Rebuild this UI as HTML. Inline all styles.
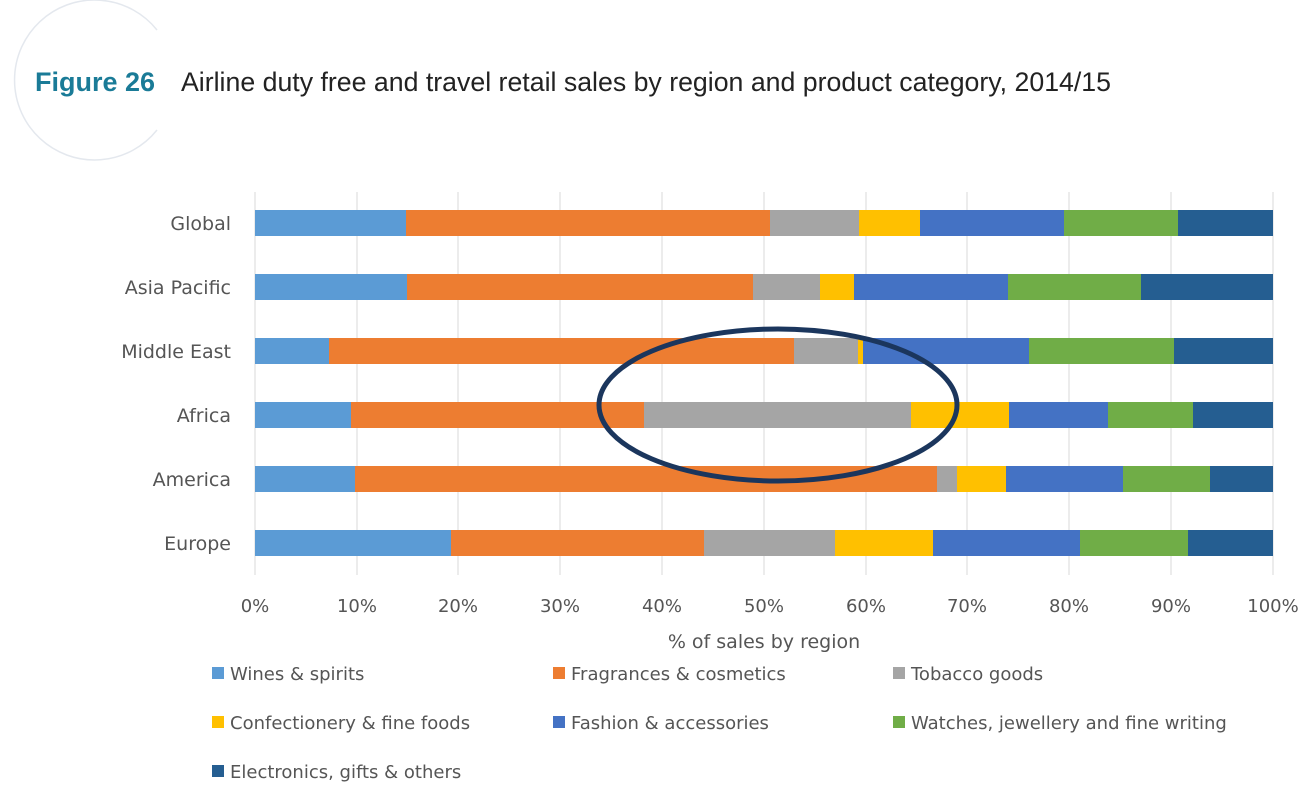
<!DOCTYPE html>
<html><head><meta charset="utf-8"><style>
body{margin:0;background:#fff;}
svg{display:block;}
</style></head><body>
<svg width="1305" height="793" xmlns="http://www.w3.org/2000/svg" font-family="'DejaVu Sans','Liberation Sans',sans-serif">
<path d="M157,30 A80,80 0 1 0 157,130" fill="none" stroke="#e4e8ee" stroke-width="1.5"/>
<text x="35" y="91" font-family="'Liberation Sans',sans-serif" font-weight="bold" font-size="27" fill="#1a7b97" textLength="120" lengthAdjust="spacingAndGlyphs">Figure 26</text>
<text x="181" y="91" font-family="'Liberation Sans',sans-serif" font-size="26.5" fill="#222" textLength="930" lengthAdjust="spacingAndGlyphs">Airline duty free and travel retail sales by region and product category, 2014/15</text>
<g stroke="#d9d9d9" stroke-width="1">
<line x1="255" y1="192" x2="255" y2="575"/><line x1="357" y1="192" x2="357" y2="575"/><line x1="458" y1="192" x2="458" y2="575"/><line x1="560" y1="192" x2="560" y2="575"/><line x1="662" y1="192" x2="662" y2="575"/><line x1="764" y1="192" x2="764" y2="575"/><line x1="866" y1="192" x2="866" y2="575"/><line x1="967" y1="192" x2="967" y2="575"/><line x1="1069" y1="192" x2="1069" y2="575"/><line x1="1171" y1="192" x2="1171" y2="575"/><line x1="1273" y1="192" x2="1273" y2="575"/>
</g>
<g font-size="19" fill="#555" text-anchor="end">
<text x="231" y="230">Global</text><text x="231" y="294">Asia Pacific</text><text x="231" y="358">Middle East</text><text x="231" y="422">Africa</text><text x="231" y="486">America</text><text x="231" y="550">Europe</text>
</g>
<g font-size="18" fill="#555" text-anchor="middle">
<text x="255" y="612">0%</text><text x="357" y="612">10%</text><text x="458" y="612">20%</text><text x="560" y="612">30%</text><text x="662" y="612">40%</text><text x="764" y="612">50%</text><text x="866" y="612">60%</text><text x="967" y="612">70%</text><text x="1069" y="612">80%</text><text x="1171" y="612">90%</text><text x="1273" y="612">100%</text>
<text x="764" y="648" font-size="19">% of sales by region</text>
</g>
<g font-size="18" fill="#555">
<rect x="212" y="667" width="12" height="12" fill="#5b9bd5"/><text x="230" y="680">Wines &amp; spirits</text>
<rect x="553" y="667" width="12" height="12" fill="#ed7d31"/><text x="571" y="680">Fragrances &amp; cosmetics</text>
<rect x="893" y="667" width="12" height="12" fill="#a5a5a5"/><text x="911" y="680">Tobacco goods</text>
<rect x="212" y="716" width="12" height="12" fill="#ffc000"/><text x="230" y="729">Confectionery &amp; fine foods</text>
<rect x="553" y="716" width="12" height="12" fill="#4472c4"/><text x="571" y="729">Fashion &amp; accessories</text>
<rect x="893" y="716" width="12" height="12" fill="#70ad47"/><text x="911" y="729">Watches, jewellery and fine writing</text>
<rect x="212" y="765" width="12" height="12" fill="#255e91"/><text x="230" y="778">Electronics, gifts &amp; others</text>
</g>
<g>
<rect x="255" y="210" width="151" height="26" fill="#5b9bd5"/><rect x="406" y="210" width="364" height="26" fill="#ed7d31"/><rect x="770" y="210" width="89" height="26" fill="#a5a5a5"/><rect x="859" y="210" width="61" height="26" fill="#ffc000"/><rect x="920" y="210" width="144" height="26" fill="#4472c4"/><rect x="1064" y="210" width="114" height="26" fill="#70ad47"/><rect x="1178" y="210" width="95" height="26" fill="#255e91"/>
<rect x="255" y="274" width="152" height="26" fill="#5b9bd5"/><rect x="407" y="274" width="346" height="26" fill="#ed7d31"/><rect x="753" y="274" width="67" height="26" fill="#a5a5a5"/><rect x="820" y="274" width="34" height="26" fill="#ffc000"/><rect x="854" y="274" width="154" height="26" fill="#4472c4"/><rect x="1008" y="274" width="133" height="26" fill="#70ad47"/><rect x="1141" y="274" width="132" height="26" fill="#255e91"/>
<rect x="255" y="338" width="74" height="26" fill="#5b9bd5"/><rect x="329" y="338" width="465" height="26" fill="#ed7d31"/><rect x="794" y="338" width="64" height="26" fill="#a5a5a5"/><rect x="858" y="338" width="5" height="26" fill="#ffc000"/><rect x="863" y="338" width="166" height="26" fill="#4472c4"/><rect x="1029" y="338" width="145" height="26" fill="#70ad47"/><rect x="1174" y="338" width="99" height="26" fill="#255e91"/>
<rect x="255" y="402" width="96" height="26" fill="#5b9bd5"/><rect x="351" y="402" width="293" height="26" fill="#ed7d31"/><rect x="644" y="402" width="267" height="26" fill="#a5a5a5"/><rect x="911" y="402" width="98" height="26" fill="#ffc000"/><rect x="1009" y="402" width="99" height="26" fill="#4472c4"/><rect x="1108" y="402" width="85" height="26" fill="#70ad47"/><rect x="1193" y="402" width="80" height="26" fill="#255e91"/>
<rect x="255" y="466" width="100" height="26" fill="#5b9bd5"/><rect x="355" y="466" width="582" height="26" fill="#ed7d31"/><rect x="937" y="466" width="20" height="26" fill="#a5a5a5"/><rect x="957" y="466" width="49" height="26" fill="#ffc000"/><rect x="1006" y="466" width="117" height="26" fill="#4472c4"/><rect x="1123" y="466" width="87" height="26" fill="#70ad47"/><rect x="1210" y="466" width="63" height="26" fill="#255e91"/>
<rect x="255" y="530" width="196" height="26" fill="#5b9bd5"/><rect x="451" y="530" width="253" height="26" fill="#ed7d31"/><rect x="704" y="530" width="131" height="26" fill="#a5a5a5"/><rect x="835" y="530" width="98" height="26" fill="#ffc000"/><rect x="933" y="530" width="147" height="26" fill="#4472c4"/><rect x="1080" y="530" width="108" height="26" fill="#70ad47"/><rect x="1188" y="530" width="85" height="26" fill="#255e91"/>
</g>
<ellipse cx="778" cy="405" rx="179" ry="76" fill="none" stroke="#1b365d" stroke-width="5"/>
</svg>
</body></html>
